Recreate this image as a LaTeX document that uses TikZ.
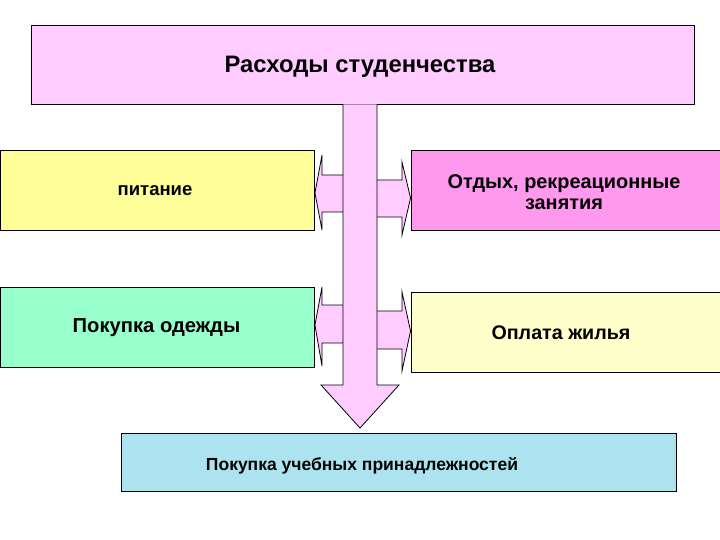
\documentclass[tikz,border=0pt]{standalone}
\usepackage{fontspec}
\setmainfont{Liberation Sans}
\definecolor{toppink}{HTML}{FFCCFF}
\definecolor{arrpink}{HTML}{FFCCFF}
\definecolor{boxyellow}{HTML}{FFFF99}
\definecolor{boxmagenta}{HTML}{FF99EE}
\definecolor{boxmint}{HTML}{99FFCC}
\definecolor{boxcream}{HTML}{FFFFCC}
\definecolor{boxcyan}{HTML}{ADE3EE}
\newcommand{\fsz}[1]{\fontsize{#1bp}{21bp}\selectfont\bfseries}
\begin{document}
\begin{tikzpicture}[x=1bp,y=-1bp,
  box/.style={draw=black,line width=0.9bp,inner sep=0pt,align=center},
  lbl/.style={inner sep=0pt,align=center},
  arr/.style={draw=black,line width=0.8bp,fill=arrpink,line join=miter}]
\useasboundingbox (0,0) rectangle (720,540);
\fill[white] (0,0) rectangle (720,540);
% boxes
\node[box,fill=toppink,minimum width=663bp,minimum height=79bp] (top) at (362.5,64.5) {};
\node[lbl,font=\fsz{23.8}] (toplbl) at (360,67) {Расходы студенчества};
\node[box,fill=boxyellow,minimum width=314bp,minimum height=80bp] (pit) at (157.5,190) {};
\node[lbl,font=\fsz{18.5}] (pitlbl) at (155,191) {питание};
\node[box,fill=boxmagenta,minimum width=311bp,minimum height=80bp] (otd) at (566.5,190) {};
\node[lbl,font=\fsz{19.9}] (otdlbl) at (564,192) {Отдых, рекреационные\\занятия};
\node[box,fill=boxmint,minimum width=314bp,minimum height=80bp] (odz) at (157.5,327) {};
\node[lbl,font=\fsz{20.2}] (odzlbl) at (156.5,328) {Покупка одежды};
\node[box,fill=boxcream,minimum width=311bp,minimum height=80bp] (zhil) at (566.5,332) {};
\node[lbl,font=\fsz{19.7}] (zhillbl) at (561,333) {Оплата жилья};
\node[box,fill=boxcyan,minimum width=555bp,minimum height=58bp] (ucheb) at (398.5,462) {};
\node[lbl,font=\fsz{17.5}] (uchlbl) at (362,466) {Покупка учебных принадлежностей};
% side arrows
\draw[arr] (343,175) -- (322,175) -- (322,155) -- (pit.east |- 0,193) -- (322,230) -- (322,212) -- (343,212);
\draw[arr] (343,305) -- (322,305) -- (322,287) -- (odz.east |- 0,325) -- (322,366) -- (322,343) -- (343,343);
\draw[arr] (377,180) -- (402,180) -- (402,162) -- (otd.west |- 0,198) -- (402,235) -- (402,217) -- (377,217);
\draw[arr] (377,311) -- (402,311) -- (402,292) -- (zhil.west |- 0,331) -- (402,371) -- (402,349) -- (377,349);
% main arrow
\draw[arr] (top.south -| 343,0) -- (343,385) -- (321,385) -- (360,428) -- (399,385) -- (377,385) -- (top.south -| 377,0);
\end{tikzpicture}
\end{document}
